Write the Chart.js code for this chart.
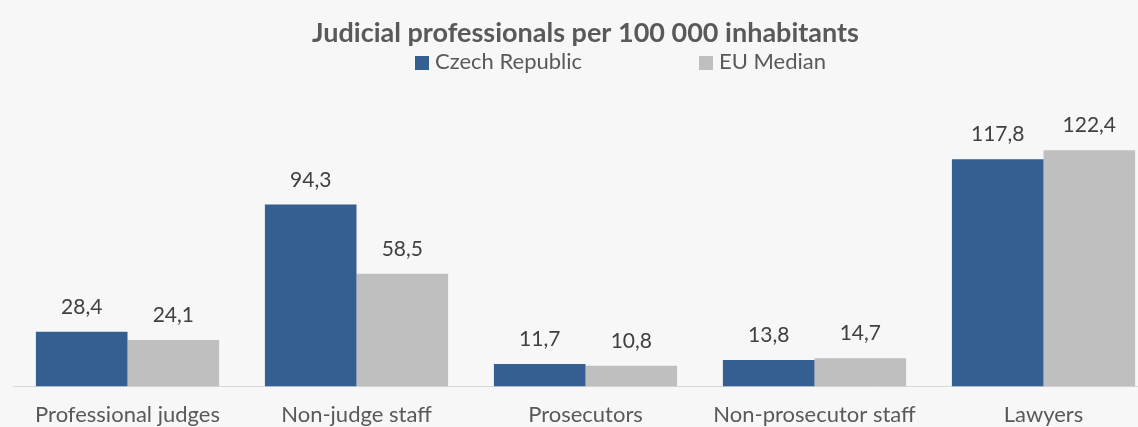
<!DOCTYPE html>
<html>
<head>
<meta charset="utf-8">
<script src="https://cdn.jsdelivr.net/npm/chart.js@4.4.1/dist/chart.umd.min.js"></script>
<style>
  body { margin: 0; background: #f7f7f7; overflow: hidden; }
  #wrap { position: relative; width: 1160px; height: 443px; }
  .leg { position: absolute; top: 49px; font: 22px Lato, sans-serif; color: #595959; white-space: nowrap; line-height: 24px; }
  .leg span.box { display: inline-block; width: 14px; height: 14px; margin-right: 6px; vertical-align: -1px; }
</style>
</head>
<body>
<div id="wrap">
  <canvas id="bar-chart"></canvas>
  <div class="leg" id="leg0" style="left:415px"></div>
  <div class="leg" id="leg1" style="left:699px"></div>
</div>
<script>
var categories = ['Professional judges', 'Non-judge staff', 'Prosecutors', 'Non-prosecutor staff', 'Lawyers'];
var czech = [28.4, 94.3, 11.7, 13.8, 117.8];
var euMedian = [24.1, 58.5, 10.8, 14.7, 122.4];
var seriesNames = ['Czech Republic', 'EU Median'];
var seriesColors = ['#365f91', '#bfbfbf'];

// legend in html, built from the series
for (var i = 0; i < seriesNames.length; i++) {
  var el = document.getElementById('leg' + i);
  el.innerHTML = '<span class="box" style="background:' + seriesColors[i] + '"></span>' + seriesNames[i];
}

var valueLabels = {
  id: 'valueLabels',
  afterDatasetsDraw: function (chart) {
    var ctx = chart.ctx;
    ctx.save();
    ctx.font = '21px Lato';
    ctx.fillStyle = '#404040';
    ctx.textAlign = 'center';
    ctx.textBaseline = 'alphabetic';
    chart.data.datasets.forEach(function (ds, di) {
      chart.getDatasetMeta(di).data.forEach(function (bar, j) {
        ctx.fillText(ds.data[j].toFixed(1).replace('.', ','), bar.x, bar.y - 18);
      });
    });
    ctx.restore();
  }
};

new Chart(document.getElementById('bar-chart'), {
  type: 'bar',
  data: {
    labels: categories,
    datasets: [
      { label: seriesNames[0], data: czech, backgroundColor: seriesColors[0] },
      { label: seriesNames[1], data: euMedian, backgroundColor: seriesColors[1] }
    ]
  },
  options: {
    responsive: true,
    maintainAspectRatio: false,
    animation: false,
    layout: { padding: { left: 13, right: 2, top: 0, bottom: 0 } },
    datasets: { bar: { categoryPercentage: 0.8, barPercentage: 1.0 } },
    plugins: {
      legend: { display: false },
      tooltip: { enabled: false },
      title: {
        display: true,
        text: 'Judicial professionals per 100 000 inhabitants',
        color: '#595959',
        font: { family: 'Lato', size: 27, weight: 'bold' },
        padding: { top: 17, bottom: 67 }
      }
    },
    scales: {
      x: {
        grid: { display: false, drawTicks: false },
        border: { display: true, color: '#d9d9d9', width: 1 },
        ticks: { color: '#595959', font: { family: 'Lato', size: 22 }, padding: 15 }
      },
      y: {
        display: false,
        min: 0,
        max: 140
      }
    }
  },
  plugins: [valueLabels]
});
</script>
</body>
</html>
